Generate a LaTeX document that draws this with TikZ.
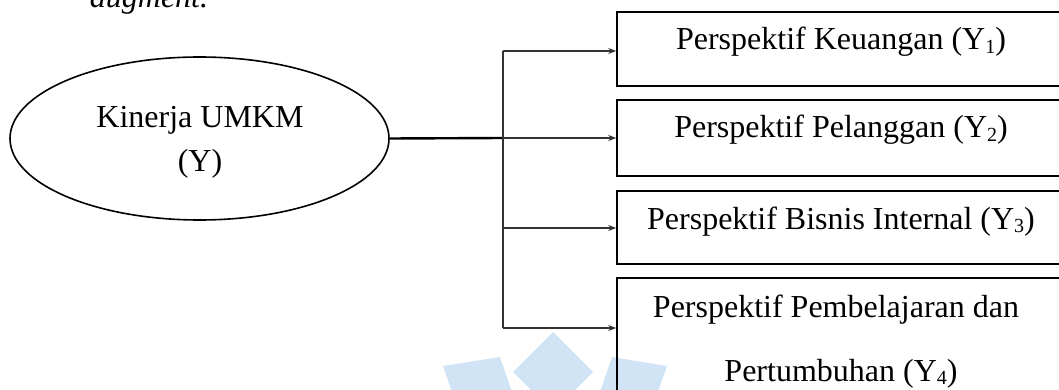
\documentclass[tikz,border=0pt]{standalone}
\usepackage{fontspec}
\setmainfont{Liberation Serif}
\usetikzlibrary{arrows.meta,shapes.geometric}
\newcommand{\sbs}[1]{\raisebox{-0.12em}{\fontsize{20}{20}\selectfont #1}}
\definecolor{wmblue}{RGB}{208,228,246}
\tikzset{
  bigtext/.style={font=\fontsize{32}{44}\selectfont},
  boxnode/.style={draw, line width=1.6pt, minimum width=470pt, inner sep=0pt},
  boxlabel/.style={bigtext, anchor=base, inner sep=0pt, align=center},
  link/.style={line width=1.4pt, draw=black!80},
  arr/.style={link, -{Stealth[length=8pt,width=6pt]}},
  wmark/.style={fill=wmblue, draw=none},
}
\begin{document}
\begin{tikzpicture}[x=1pt,y=-1pt]
\useasboundingbox (0,0) rectangle (1059,390);
\clip (0,0) rectangle (1059,390);
% watermark
\fill[wmark] (553,332) -- (593,372) -- (553,412) -- (513,372) -- cycle;
\fill[wmark] (443,366) -- (500,357) -- (512,392) -- (452,392) -- cycle;
\fill[wmark] (612,357) -- (667,366) -- (658,392) -- (600,392) -- cycle;
% cropped heading text
\node[bigtext, anchor=base, inner sep=0pt] (top) at (149,8) {\itshape augment.};
% ellipse
\node[draw, ellipse, line width=1.6pt, minimum width=379pt, minimum height=163pt, inner sep=0pt] (el) at (199.5,138.5) {};
\node[bigtext, align=center, inner sep=0pt] (elt) at (200,142) {Kinerja UMKM\\(Y)};
% boxes (right side runs past the picture's edge)
\node[boxnode, minimum height=74pt] (b1) at (852,49) {};
\node[boxnode, minimum height=76pt] (b2) at (852,138) {};
\node[boxnode, minimum height=73pt] (b3) at (852,227.5) {};
\node[boxnode, minimum height=160pt] (b4) at (852,358) {};
% labels
\node[boxlabel] (t1) at (841,50) {Perspektif Keuangan (Y\sbs{1})};
\node[boxlabel] (t2) at (841,138) {Perspektif Pelanggan (Y\sbs{2})};
\node[boxlabel] (t3) at (841,229) {Perspektif Bisnis Internal (Y\sbs{3})};
\node[boxlabel] (t4a) at (836,317) {Perspektif Pembelajaran dan};
\node[boxlabel] (t4b) at (841,381) {Pertumbuhan (Y\sbs{4})};
% connectors
\coordinate (j) at (503,138);
\coordinate (v1) at (503,51);
\coordinate (v3) at (503,228);
\coordinate (v4) at (503,328);
\draw[line width=2.4pt] (el.east) -- (j);
\draw[link] (v1) -- (v4);
\draw[arr] (v1) -- (v1 -| b1.west);
\draw[arr] (j) -- (j -| b2.west);
\draw[arr] (v3) -- (v3 -| b3.west);
\draw[arr] (v4) -- (v4 -| b4.west);
\end{tikzpicture}
\end{document}
